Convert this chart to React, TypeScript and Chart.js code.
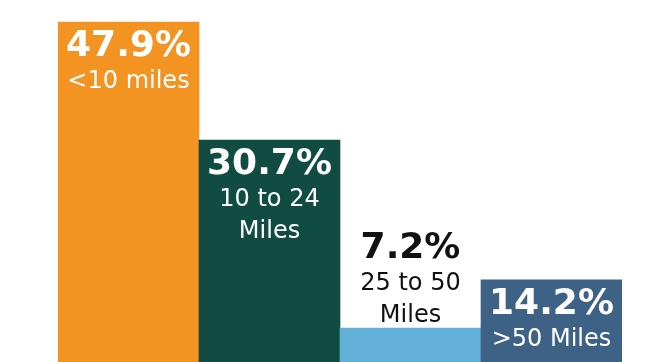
import React, { useEffect, useRef } from "react";
import { Chart, registerables } from "chart.js";

Chart.register(...registerables);

const categories = ["<10 miles", "10 to 24 Miles", "25 to 50 Miles", ">50 Miles"];
// displayed bar lengths (axis runs 0..100 over the full picture height)
const barHeights = [93.9, 61.3, 9.4, 22.7];
const percentLabels = ["47.9%", "30.7%", "7.2%", "14.2%"];
const subLabels = [["<10 miles"], ["10 to 24", "Miles"], ["25 to 50", "Miles"], [">50 Miles"]];
const barColors = ["#F39322", "#104C42", "#62B0D8", "#3D6286"];
const textColors = ["#ffffff", "#ffffff", "#111111", "#ffffff"];

const FONT = "'DejaVu Sans', sans-serif";

const labelPlugin = {
  id: "barLabels",
  afterDatasetsDraw(chart: any) {
    const ctx = chart.ctx;
    const meta = chart.getDatasetMeta(0);
    meta.data.forEach((bar: any, i: number) => {
      const lines = subLabels[i];
      const blockH = 34 + lines.length * 32 + 6;
      const barH = bar.base - bar.y;
      ctx.save();
      ctx.textAlign = "center";
      ctx.textBaseline = "alphabetic";
      ctx.fillStyle = textColors[i];
      let pctBase: number;
      if (barH >= blockH) {
        pctBase = bar.y + 34;
      } else {
        pctBase = bar.y - 6 - lines.length * 32;
      }
      ctx.font = `bold 36px ${FONT}`;
      ctx.fillText(percentLabels[i], bar.x, pctBase);
      ctx.font = `24px ${FONT}`;
      lines.forEach((ln, k) => {
        ctx.fillText(ln, bar.x, pctBase + 32 * (k + 1));
      });
      ctx.restore();
    });
  },
};

export default function App() {
  const ref = useRef<HTMLCanvasElement | null>(null);
  useEffect(() => {
    if (!ref.current) return;
    const chart = new Chart(ref.current, {
      type: "bar",
      data: {
        labels: categories,
        datasets: [
          {
            data: barHeights,
            backgroundColor: barColors,
            borderWidth: 0,
            barPercentage: 1,
            categoryPercentage: 1,
          },
        ],
      },
      options: {
        responsive: false,
        animation: false,
        devicePixelRatio: 1,
        layout: { padding: { left: 58, right: 49, top: 0, bottom: 0 } },
        plugins: { legend: { display: false }, tooltip: { enabled: false } },
        scales: {
          x: { display: false },
          y: { display: false, min: 0, max: 100 },
        },
      },
      plugins: [labelPlugin],
    });
    return () => chart.destroy();
  }, []);
  return (
    <div style={{ position: "fixed", left: 0, top: 0, width: 671, height: 362, background: "#fff" }}>
      <canvas ref={ref} width={671} height={362} style={{ display: "block" }} />
    </div>
  );
}
